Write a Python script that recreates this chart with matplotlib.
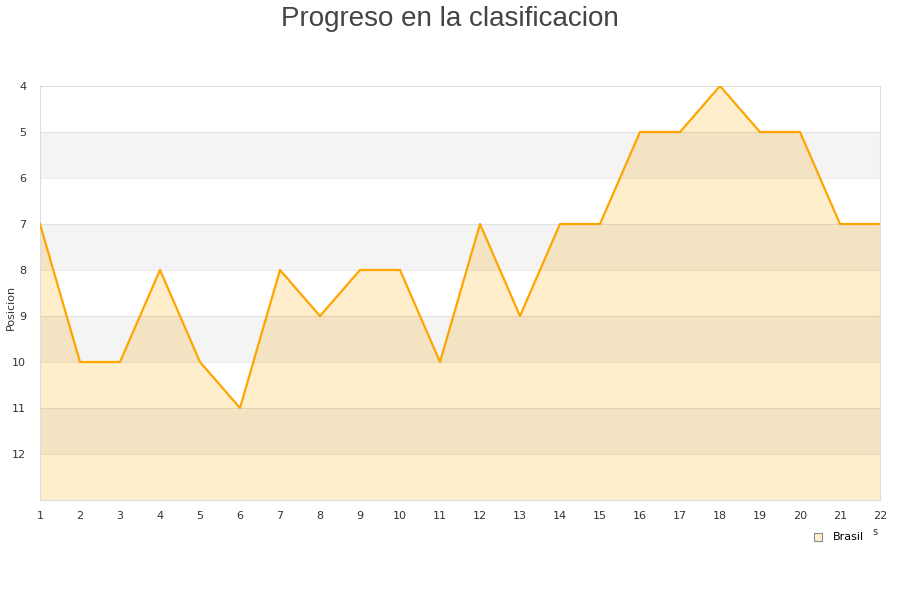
import numpy as np
import matplotlib
matplotlib.use("Agg")
import matplotlib.pyplot as plt

jornadas = list(range(1, 23))
posicion = [7, 10, 10, 8, 10, 11, 8, 9, 8, 8, 10, 7, 9, 7, 7, 5, 5, 4, 5, 5, 7, 7]
equipo = "Brasil"
titulo = "Progreso en la clasificacion"

fig = plt.figure(figsize=(9, 6), dpi=100)
ax = fig.add_axes([40 / 900, 100 / 600, 840 / 900, 414 / 600])

ax.fill_between(jornadas, posicion, 13, color="#ffeecc", lw=0, zorder=1)

# bandas alternas del fondo (encima del relleno, semitransparentes)
for k in range(4, 13):
    if (k - 4) % 2 == 1:
        ax.axhspan(k, k + 1, color="black", alpha=0.045, zorder=2, lw=0)
for k in range(5, 13):
    ax.axhline(k, color="black", alpha=0.07, lw=0.8, zorder=2)

ax.plot(jornadas, posicion, color="#ffa500", lw=1.6, zorder=3, label=equipo)

ax.set_xlim(1, 22)
ax.set_ylim(13, 4)
ax.set_xticks(jornadas)
ax.set_yticks(range(4, 13))
ax.tick_params(axis="both", length=0, labelsize=8, colors="#333333", pad=8)
ax.tick_params(axis="y", pad=10)
for s in ax.spines.values():
    s.set_color("#dddddd")
    s.set_linewidth(0.8)

fig.text(11 / 900, 293 / 600, "Posicion", rotation=90, ha="center", va="center",
         fontsize=8, color="#333333")
fig.text(0.5, 0.99, titulo, ha="center", va="top", fontsize=20,
         family="Liberation Sans", color="#444444")
fig.text(875 / 900, 68 / 600, "s", ha="center", va="center", fontsize=7, color="#333333")

# leyenda
fig.lines.append(plt.Line2D([818 / 900], [63 / 600], marker="s", markersize=6,
                            markerfacecolor="#ffeecc", markeredgecolor="#888888",
                            markeredgewidth=0.8, transform=fig.transFigure))
fig.text(833 / 900, 63 / 600, equipo, ha="left", va="center", fontsize=8, color="#000000")

fig.savefig("out.png", dpi=100)
